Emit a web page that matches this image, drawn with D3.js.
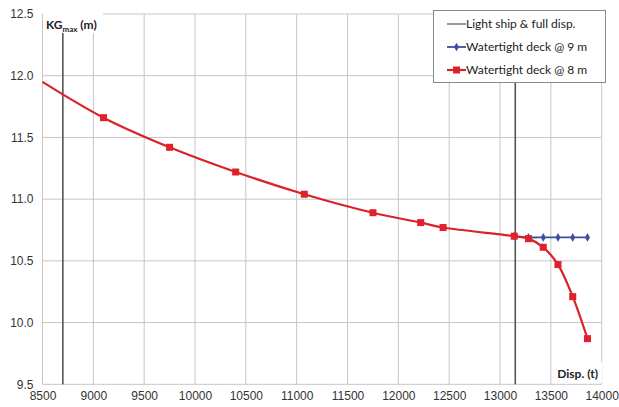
<!DOCTYPE html>
<html>
<head>
<meta charset="utf-8">
<script src="https://cdn.jsdelivr.net/npm/d3@7"></script>
<style>
  body { margin: 0; background: #fff; }
  svg { display: block; font-family: Lato, "Open Sans", sans-serif; }
  .tick text { fill: #333; font-size: 12px; }
</style>
</head>
<body>
<div id="chart"></div>
<script>
// displacement (t) vs KGmax (m)
const deck8Disp = [8500, 9100, 9750, 10400, 11075, 11750, 12220, 12440, 13140, 13280, 13425, 13570, 13715, 13860];
const deck8KG   = [11.95, 11.66, 11.42, 11.22, 11.04, 10.89, 10.81, 10.77, 10.70, 10.68, 10.61, 10.47, 10.21, 9.87];
const deck9Disp = [13140, 13280, 13425, 13570, 13715, 13860];
const deck9KG   = [10.70, 10.69, 10.69, 10.69, 10.69, 10.69];
const lightFullDisp = [8700, 13150];
const xTicks = [8500, 9000, 9500, 10000, 10500, 11000, 11500, 12000, 12500, 13000, 13500, 14000];
const yTicks = [9.5, 10.0, 10.5, 11.0, 11.5, 12.0, 12.5];
const legendLabels = ['Light ship & full disp.', 'Watertight deck @ 9 m', 'Watertight deck @ 8 m'];

const W = 619, H = 407;
const m = {left: 42.5, right: 17.3, top: 14, bottom: 22.7};

const svg = d3.select('#chart').append('svg').attr('width', W).attr('height', H);

const x = d3.scaleLinear().domain([8500, 14000]).range([m.left, W - m.right]);
const y = d3.scaleLinear().domain([9.5, 12.5]).range([H - m.bottom, m.top]);

// grid
svg.append('g').selectAll('line').data(xTicks).join('line')
  .attr('x1', d => x(d)).attr('x2', d => x(d))
  .attr('y1', y(12.5)).attr('y2', y(9.5))
  .attr('stroke', '#c6c6c6').attr('stroke-width', 1);
svg.append('g').selectAll('line').data(yTicks).join('line')
  .attr('x1', x(8500)).attr('x2', x(14000))
  .attr('y1', d => y(d)).attr('y2', d => y(d))
  .attr('stroke', '#c6c6c6').attr('stroke-width', 1);

// axes labels
svg.append('g').attr('transform', `translate(0,${H - m.bottom})`)
  .call(d3.axisBottom(x).tickValues(xTicks).tickSize(0).tickPadding(7).tickFormat(d3.format('d')))
  .call(g => g.select('.domain').remove());
svg.append('g').attr('transform', `translate(${m.left},0)`)
  .call(d3.axisLeft(y).tickValues(yTicks).tickSize(0).tickPadding(9).tickFormat(d3.format('.1f')))
  .call(g => g.select('.domain').remove());

// light ship & full displacement
svg.append('g').selectAll('line').data(lightFullDisp).join('line')
  .attr('x1', d => x(d)).attr('x2', d => x(d))
  .attr('y1', y(12.5)).attr('y2', y(9.5))
  .attr('stroke', '#555').attr('stroke-width', 1.6);

const line = d3.line().curve(d3.curveCatmullRom.alpha(0.5))
  .x(d => x(d[0])).y(d => y(d[1]));

const deck9 = deck9Disp.map((d, i) => [d, deck9KG[i]]);
const deck8 = deck8Disp.map((d, i) => [d, deck8KG[i]]);

svg.append('path').datum(deck9).attr('d', line)
  .attr('fill', 'none').attr('stroke', '#3d4f9f').attr('stroke-width', 1.8);
svg.append('g').selectAll('path').data(deck9).join('path')
  .attr('d', d3.symbol(d3.symbolDiamond, 22))
  .attr('transform', d => `translate(${x(d[0])},${y(d[1])})`)
  .attr('fill', '#3d4f9f');

svg.append('path').datum(deck8).attr('d', line)
  .attr('fill', 'none').attr('stroke', '#d9222b').attr('stroke-width', 2.2);
svg.append('g').selectAll('rect').data(deck8.filter(d => d[0] > 8500)).join('rect')
  .attr('x', d => x(d[0]) - 3.5).attr('y', d => y(d[1]) - 3.5)
  .attr('width', 7).attr('height', 7)
  .attr('fill', '#e0202a');

// axis titles with white boxes (as in the source)
svg.append('rect').attr('x', 43).attr('y', 9).attr('width', 60).attr('height', 24).attr('fill', '#fff');
const kg = svg.append('text').attr('x', 46).attr('y', 29)
  .attr('font-size', 12).attr('font-weight', 'bold').attr('fill', '#222');
kg.append('tspan').text('KG');
kg.append('tspan').attr('font-size', 8).attr('dy', 3).text('max');
kg.append('tspan').attr('dy', -3).text(' (m)');

svg.append('rect').attr('x', 553).attr('y', 362).attr('width', 49).attr('height', 21).attr('fill', '#fff');
svg.append('text').attr('x', 598).attr('y', 378).attr('text-anchor', 'end')
  .attr('font-size', 12).attr('font-weight', 'bold').attr('fill', '#222').text('Disp. (t)');

// legend
const lg = svg.append('g');
lg.append('rect').attr('x', 433.5).attr('y', 10.5).attr('width', 172).attr('height', 72)
  .attr('fill', '#fff').attr('stroke', '#888');
const items = lg.selectAll('g').data(legendLabels).join('g')
  .attr('transform', (d, i) => `translate(447,${24 + i * 23})`);
items.append('line').attr('x1', 0).attr('x2', 19)
  .attr('stroke', (d, i) => ['#555', '#3d4f9f', '#d9222b'][i])
  .attr('stroke-width', (d, i) => [1.2, 1.8, 2.2][i]);
items.filter((d, i) => i === 1).append('path')
  .attr('d', d3.symbol(d3.symbolDiamond, 22)).attr('transform', 'translate(9.5,0)').attr('fill', '#3d4f9f');
items.filter((d, i) => i === 2).append('rect')
  .attr('x', 6).attr('y', -3.5).attr('width', 7).attr('height', 7).attr('fill', '#e0202a');
items.append('text').attr('x', 19).attr('dy', '0.35em')
  .attr('font-size', 12).attr('fill', '#222').text(d => d);
</script>
</body>
</html>
